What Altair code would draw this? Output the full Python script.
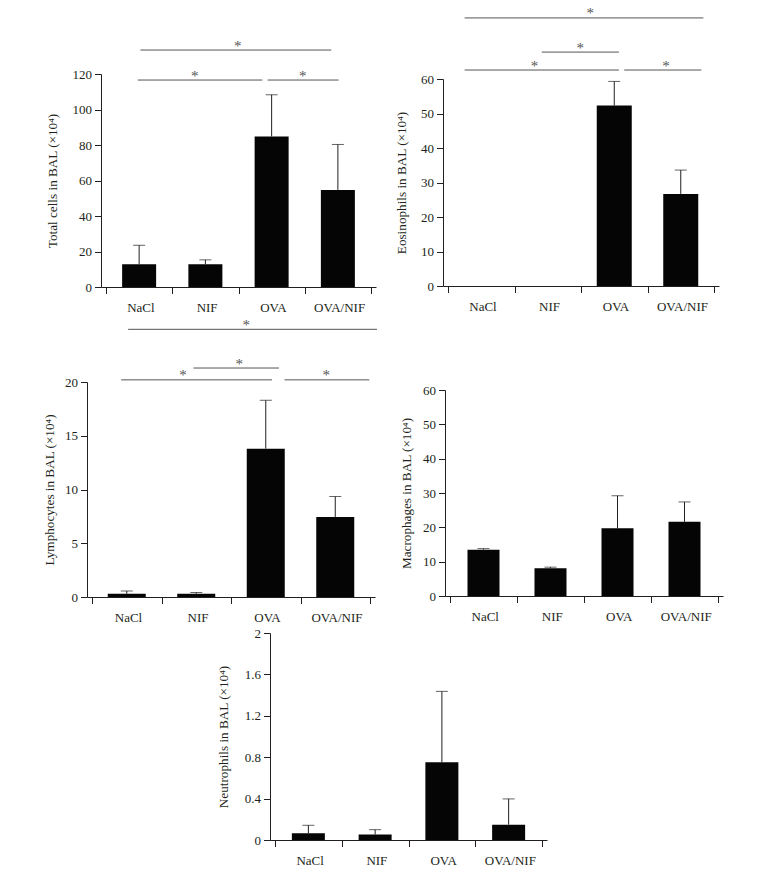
import json
import altair as alt
import pandas as pd

# ---------------- data ----------------
categories = ["NaCl", "NIF", "OVA", "OVA/NIF"]

total_mean = [12.8, 12.8, 84.8, 54.7]
total_sd = [10.7, 2.5, 23.5, 25.6]

eos_mean = [0, 0, 52.3, 26.7]
eos_sd = [0, 0, 7.0, 6.9]

lym_mean = [0.3, 0.3, 13.8, 7.45]
lym_sd = [0.26, 0.12, 4.5, 1.9]

mac_mean = [13.5, 8.1, 19.7, 21.6]
mac_sd = [0.3, 0.3, 9.5, 5.8]

neu_mean = [0.065, 0.052, 0.752, 0.148]
neu_sd = [0.077, 0.048, 0.684, 0.249]

total_ticks = [0, 20, 40, 60, 80, 100, 120]
eos_ticks = [0, 10, 20, 30, 40, 50, 60]
lym_ticks = [0, 5, 10, 15, 20]
mac_ticks = [0, 10, 20, 30, 40, 50, 60]
neu_ticks = [0, 0.4, 0.8, 1.2, 1.6, 2]

# significance brackets: (from group pos, to group pos, height, star pos) in group units
total_sig = [(0.48, 2.36, 116.6, 1.34), (2.44, 3.51, 116.6, 2.97), (0.52, 3.40, 133.5, 1.99)]
eos_sig = [(0.25, 3.84, 77.7, 2.14), (1.41, 2.57, 67.8, 1.99), (0.25, 2.57, 62.6, 1.30),
           (2.65, 3.81, 62.6, 3.28)]
lym_sig = [(0.52, 4.10, 24.9, 2.22), (1.46, 2.69, 21.3, 2.12), (0.42, 2.59, 20.2, 1.31),
           (2.77, 3.99, 20.2, 3.37)]

# ---------------- layout (pixels) ----------------
W, H = 757, 859
FONT = "Liberation Serif"
INK = "#231f20"
SIG = "#555555"


def panel(means, sds, ticks, title, sig, box, bar_w, title_pad):
    x0, x1, yb, yt = box
    ymax = ticks[-1]
    band = (x1 - x0) / 4.0
    df = pd.DataFrame({
        "cat": categories,
        "pos": [i + 0.5 for i in range(len(categories))],
        "mean": means,
        "sd": sds,
    })
    df["top"] = df["mean"] + df["sd"]

    xs = alt.Scale(domain=[0, 4], range=[x0, x1], nice=False, zero=False)
    ys = alt.Scale(domain=[0, ymax], range=[yb, yt], nice=False, zero=True)
    labels = json.dumps(categories + [""])
    xaxis = alt.Axis(orient="bottom", offset=-(H - yb), values=[0, 1, 2, 3, 4],
                     labelExpr=f"{labels}[datum.value]", labelOffset=band / 2,
                     labelFlush=False, labelOverlap=False, title=None, grid=False)
    yaxis = alt.Axis(orient="left", offset=-x0, values=ticks, format="~g",
                     title=title, titlePadding=title_pad, grid=False,
                     labelOverlap=False, labelFlush=False)

    base = alt.Chart(df)
    bars = base.mark_bar(width=bar_w, color="#050505", orient="vertical").encode(
        x=alt.X("pos:Q", scale=xs, axis=xaxis),
        y=alt.Y("mean:Q", scale=ys, axis=yaxis, stack=None),
    )
    err = base.transform_filter("datum.sd > 0").mark_rule(color=INK, strokeWidth=1).encode(
        x="pos:Q", y="mean:Q", y2="top:Q",
    )
    caps = base.transform_filter("datum.sd > 0").mark_tick(
        orient="horizontal", size=12, thickness=1, color=INK).encode(
        x="pos:Q", y="top:Q",
    )
    layers = [bars, err, caps]
    if sig:
        sdf = pd.DataFrame(sig, columns=["start", "end", "level", "star"])
        sbase = alt.Chart(sdf)
        lines = sbase.mark_rule(color=SIG, strokeWidth=1).encode(
            x="start:Q", x2="end:Q", y="level:Q",
        )
        stars = sbase.mark_text(text="*", font=FONT, fontSize=15, color=SIG,
                                baseline="alphabetic", dy=0.5).encode(
            x="star:Q", y="level:Q",
        )
        layers += [lines, stars]
    return alt.layer(*layers)


p1 = panel(total_mean, total_sd, total_ticks, "Total cells in BAL (×10⁴)", total_sig,
           (93, 368, 279, 66), 34, 13)
p2 = panel(eos_mean, eos_sd, eos_ticks, "Eosinophils in BAL (×10⁴)", eos_sig,
           (435, 711, 278, 71), 35, 12)
p3 = panel(lym_mean, lym_sd, lym_ticks, "Lymphocytes in BAL (×10⁴)", lym_sig,
           (79, 367, 589, 374), 38, 8)
p4 = panel(mac_mean, mac_sd, mac_ticks, "Macrophages in BAL (×10⁴)", None,
           (437, 715, 588, 382), 32, 9)
p5 = panel(neu_mean, neu_sd, neu_ticks, "Neutrophils in BAL (×10⁴)", None,
           (262, 539, 832, 625), 33, 14)

chart = (
    alt.layer(p1, p2, p3, p4, p5)
    .resolve_scale(x="independent", y="independent")
    .properties(width=W, height=H, autosize=alt.AutoSizeParams(type="none"), padding=0,
                background="white")
    .configure_view(stroke=None)
    .configure_axis(
        labelFont=FONT, labelFontSize=13, labelColor=INK,
        titleFont=FONT, titleFontSize=13.2, titleFontWeight="normal", titleColor=INK,
        domainColor=INK, domainWidth=1, tickColor=INK, tickWidth=1, tickSize=6.5,
    )
    .configure_axisX(labelPadding=7.5)
    .configure_axisY(labelPadding=3)
)

chart.save("out.html", embed_options={"renderer": "svg", "actions": False})
